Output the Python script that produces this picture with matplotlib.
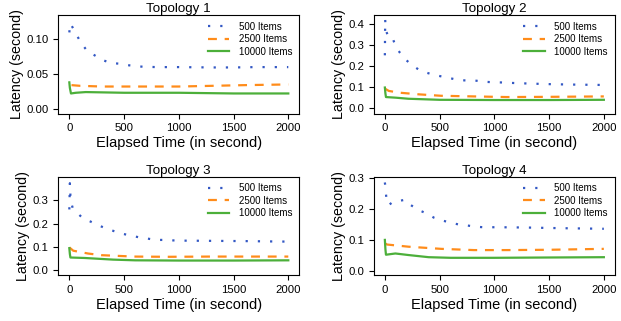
import matplotlib
matplotlib.use('Agg')
from matplotlib import pyplot as plt

plt.rcParams['font.family'] = ['Liberation Sans', 'DejaVu Sans']

# series labels and colours
labels = ['500 Items', '2500 Items', '10000 Items']
titles = ['Topology 1', 'Topology 2', 'Topology 3', 'Topology 4']

# ---- Topology 1 ----
t1_x500 = [0, 5, 10, 75, 111, 165, 231, 291, 375, 450, 525, 600, 675, 800, 1000, 1300, 1500, 1700, 2000]
t1_y500 = [0.110, 0.118, 0.123, 0.104, 0.094, 0.083, 0.077, 0.071, 0.066, 0.065, 0.063, 0.0615, 0.0605, 0.060, 0.060, 0.0595, 0.0595, 0.060, 0.060]
t1_x2500 = [20, 100, 300, 500, 800, 1000, 1300, 1600, 2000]
t1_y2500 = [0.034, 0.033, 0.032, 0.032, 0.032, 0.032, 0.033, 0.034, 0.035]
t1_x10000 = [0, 5, 15, 60, 150, 500, 1000, 1500, 2000]
t1_y10000 = [0.038, 0.030, 0.022, 0.023, 0.024, 0.023, 0.023, 0.022, 0.022]

# ---- Topology 2 ----
t2_x500 = [0, 3, 6, 15, 30, 66, 96, 135, 185, 245, 305, 380, 455, 530, 604, 679, 754, 837, 912, 987, 1061, 1142, 1300, 1500, 1700, 2000]
t2_y500 = [0.25, 0.42, 0.38, 0.36, 0.34, 0.338, 0.296, 0.264, 0.232, 0.205, 0.184, 0.168, 0.157, 0.149, 0.141, 0.133, 0.131, 0.130, 0.125, 0.123, 0.122, 0.120, 0.117, 0.114, 0.112, 0.110]
t2_x2500 = [0, 36, 126, 305, 514, 813, 1112, 1500, 2000]
t2_y2500 = [0.093, 0.082, 0.074, 0.066, 0.059, 0.056, 0.053, 0.054, 0.056]
t2_x10000 = [0, 5, 10, 100, 215, 500, 1000, 1500, 2000]
t2_y10000 = [0.098, 0.070, 0.053, 0.050, 0.045, 0.040, 0.039, 0.039, 0.040]

# ---- Topology 3 ----
t3_x500 = [0, 2, 5, 8, 12, 30, 81, 132, 195, 261, 336, 411, 486, 561, 636, 711, 786, 870, 945, 1019, 1300, 1600, 1940, 2000]
t3_y500 = [0.26, 0.30, 0.372, 0.339, 0.30, 0.267, 0.241, 0.219, 0.208, 0.193, 0.179, 0.167, 0.156, 0.149, 0.141, 0.136, 0.130, 0.130, 0.128, 0.127, 0.126, 0.125, 0.123, 0.123]
t3_x2500 = [0, 36, 171, 291, 590, 900, 1300, 2000]
t3_y2500 = [0.098, 0.084, 0.072, 0.065, 0.059, 0.058, 0.059, 0.059]
t3_x10000 = [0, 5, 10, 140, 400, 600, 1000, 1500, 2000]
t3_y10000 = [0.095, 0.070, 0.055, 0.053, 0.046, 0.043, 0.042, 0.042, 0.043]

# ---- Topology 4 ----
t4_x500 = [0, 5, 10, 18, 36, 66, 102, 140, 185, 236, 305, 380, 448, 523, 598, 673, 747, 822, 897, 971, 1052, 1300, 1600, 2000]
t4_y500 = [0.286, 0.271, 0.249, 0.221, 0.213, 0.221, 0.222, 0.227, 0.230, 0.213, 0.197, 0.186, 0.172, 0.163, 0.156, 0.150, 0.147, 0.143, 0.141, 0.141, 0.141, 0.140, 0.138, 0.136]
t4_x2500 = [5, 20, 215, 514, 813, 1112, 1500, 2000]
t4_y2500 = [0.088, 0.085, 0.078, 0.071, 0.067, 0.067, 0.068, 0.071]
t4_x10000 = [0, 5, 10, 96, 215, 400, 600, 1000, 1500, 2000]
t4_y10000 = [0.100, 0.070, 0.052, 0.056, 0.051, 0.044, 0.042, 0.042, 0.043, 0.044]

ylims = [(-0.007, 0.135), (-0.025, 0.44), (-0.02, 0.40), (-0.014, 0.305)]
yticks = [[0.00, 0.05, 0.10], [0.0, 0.1, 0.2, 0.3, 0.4], [0.0, 0.1, 0.2, 0.3], [0.0, 0.1, 0.2, 0.3]]
yfmt = ['%.2f', '%.1f', '%.1f', '%.1f']

data = [
    (t1_x500, t1_y500, t1_x2500, t1_y2500, t1_x10000, t1_y10000),
    (t2_x500, t2_y500, t2_x2500, t2_y2500, t2_x10000, t2_y10000),
    (t3_x500, t3_y500, t3_x2500, t3_y2500, t3_x10000, t3_y10000),
    (t4_x500, t4_y500, t4_x2500, t4_y2500, t4_x10000, t4_y10000),
]

fig, axes = plt.subplots(2, 2, figsize=(6.21, 3.21), dpi=100)
plt.subplots_adjust(left=0.094, right=0.99, top=0.953, bottom=0.143, wspace=0.31, hspace=0.64)

for i, ax in enumerate(axes.flat):
    x5, y5, x25, y25, x10, y10 = data[i]
    ax.plot(x5, y5, color='#3358c4', linestyle=(0, (1, 4.5)), lw=1.6, label=labels[0])
    ax.plot(x25, y25, color='#ff8c1a', linestyle=(0, (4, 3.5)), lw=1.6, label=labels[1])
    ax.plot(x10, y10, color='#4caf3a', linestyle='-', lw=1.6, label=labels[2])
    ax.set_xlim(-100, 2100)
    ax.set_ylim(ylims[i])
    ax.set_yticks(yticks[i])
    ax.set_yticklabels([yfmt[i] % v for v in yticks[i]])
    ax.set_xticks([0, 500, 1000, 1500, 2000])
    ax.tick_params(labelsize=8.2, length=3.5, width=0.8)
    ax.set_title(titles[i], fontsize=9.6, pad=2)
    ax.set_xlabel('Elapsed Time (in second)', fontsize=10.5, labelpad=2)
    ax.set_ylabel('Latency (second)', fontsize=10.3, labelpad=2)
    ax.legend(loc='upper right', frameon=False, fontsize=7, handlelength=2.2,
              handletextpad=1.0, labelspacing=0.25, borderaxespad=0.3)

fig.savefig('out.png', dpi=100)
